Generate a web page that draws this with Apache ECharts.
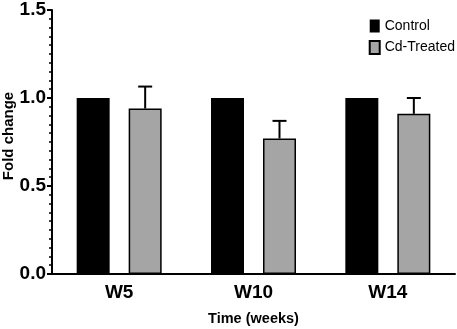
<!DOCTYPE html>
<html>
<head>
<meta charset="utf-8">
<script src="https://cdn.jsdelivr.net/npm/echarts@6/dist/echarts.min.js"></script>
<style>
  html, body { margin: 0; padding: 0; background: #fff; }
  #chart { width: 457px; height: 329px; }
</style>
</head>
<body>
<div id="chart"></div>
<script>
// data
var categories = ['W5', 'W10', 'W14'];
var controlValues = [1, 1, 1];
var treatedValues = [0.94, 0.77, 0.91];
var treatedErrors = [0.125, 0.10, 0.09];

(function () {
    var myChart = echarts.init(document.getElementById('chart'));
    var font = 'Liberation Sans, Arial, sans-serif';
    var barW = 33, barGapPx = 19;

    var errData = treatedValues.map(function (v, i) {
        return [i, v, v + treatedErrors[i]];
    });

    var option = {
        animation: false,
        grid: { left: 52, right: 2, top: 10, bottom: 55, outerBoundsMode: 'none', containLabel: false },
        legend: {
            orient: 'vertical',
            right: 2,
            top: 19,
            icon: 'rect',
            itemWidth: 10,
            itemHeight: 13,
            itemGap: 7,
            padding: 0,
            textStyle: { fontFamily: font, fontSize: 14, color: '#000', overflow: 'none' },
            data: ['Control', 'Cd-Treated']
        },
        xAxis: {
            type: 'category',
            data: categories,
            name: 'Time (weeks)',
            nameLocation: 'middle',
            nameGap: 37,
            nameMoveOverlap: false,
            nameTextStyle: { fontFamily: font, fontSize: 14.5, fontWeight: 'bold', color: '#000' },
            axisLine: { lineStyle: { color: '#000', width: 2 } },
            axisTick: { alignWithLabel: true, length: 4, lineStyle: { color: '#000', width: 2 } },
            axisLabel: { fontFamily: font, fontSize: 19, fontWeight: 'bold', color: '#000', margin: 9 }
        },
        yAxis: {
            type: 'value',
            min: 0,
            max: 1.5,
            interval: 0.5,
            name: 'Fold change',
            nameLocation: 'middle',
            nameGap: 36,
            nameMoveOverlap: false,
            nameTextStyle: { fontFamily: font, fontSize: 15, fontWeight: 'bold', color: '#000', padding: [0, 0, 0, 12] },
            axisLine: { show: true, lineStyle: { color: '#000', width: 2 } },
            axisTick: { show: true, length: 5, lineStyle: { color: '#000', width: 2 } },
            minorTick: { show: true, splitNumber: 10, length: 3, lineStyle: { color: '#000', width: 1.5 } },
            splitLine: { show: false },
            axisLabel: {
                fontFamily: font, fontSize: 19, fontWeight: 'bold', color: '#000', margin: 6,
                formatter: function (v) { return v.toFixed(1); }
            }
        },
        series: [
            {
                name: 'Control',
                type: 'bar',
                data: controlValues,
                barWidth: barW,
                barGap: (barGapPx / barW * 100) + '%',
                itemStyle: { color: '#000' }
            },
            {
                name: 'Cd-Treated',
                type: 'bar',
                data: treatedValues,
                barWidth: barW,
                itemStyle: { color: '#a5a5a5', borderColor: '#000', borderWidth: 1.5 }
            },
            {
                name: 'err',
                type: 'custom',
                data: errData,
                z: 5,
                renderItem: function (params, api) {
                    var off = (barW + barGapPx) / 2;
                    var lo = api.coord([api.value(0), api.value(1)]);
                    var hi = api.coord([api.value(0), api.value(2)]);
                    var x = lo[0] + off;
                    var style = { stroke: '#000', lineWidth: 2 };
                    return {
                        type: 'group',
                        children: [
                            { type: 'line', shape: { x1: x, y1: lo[1], x2: x, y2: hi[1] }, style: style },
                            { type: 'line', shape: { x1: x - 7, y1: hi[1], x2: x + 7, y2: hi[1] }, style: style }
                        ]
                    };
                }
            }
        ]
    };

    myChart.setOption(option);
    window.addEventListener('resize', function () {
        myChart.resize();
    });
})();
</script>
</body>
</html>
